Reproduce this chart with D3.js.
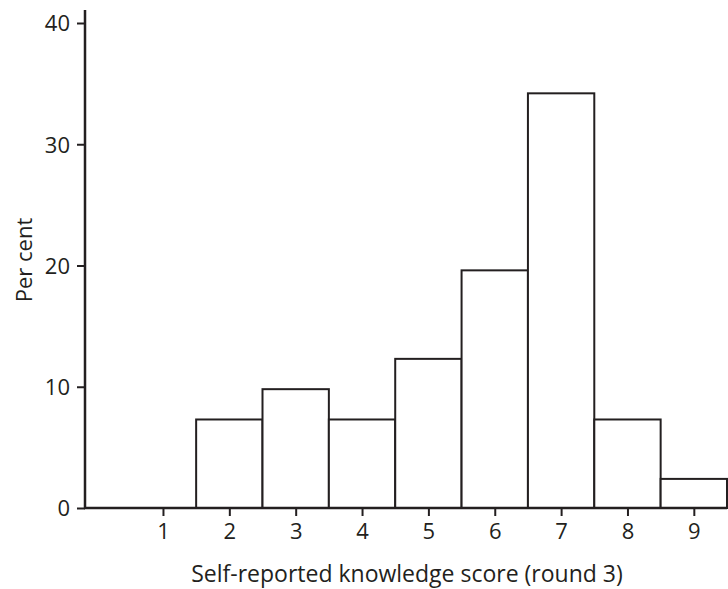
<!DOCTYPE html>
<html><head><meta charset="utf-8">
<script src="https://cdn.jsdelivr.net/npm/d3@7"></script>
<style>body{margin:0;background:#fff}svg{display:block}text{font-family:"Open Sans",sans-serif;fill:#231f20}</style>
</head><body>
<script>
const scores = [1,2,3,4,5,6,7,8,9];
const percents = [0,7.3,9.8,7.3,12.3,19.6,34.2,7.3,2.4];
const yTicks = [0,10,20,30,40];
const xLabel = "Self-reported knowledge score (round 3)";
const yLabel = "Per cent";

const W=728,H=589;
const svg=d3.select("body").append("svg").attr("width",W).attr("height",H);
const x=d3.scaleLinear().domain([-0.175,9.5]).range([85,727]);
const y=d3.scaleLinear().domain([0,40]).range([508,23]);
const col="#231f20";

svg.append("g").selectAll("rect").data(scores.map((s,i)=>({s,v:percents[i]})).filter(d=>d.v>0))
 .join("rect")
 .attr("x",d=>x(d.s-0.5)).attr("y",d=>y(d.v))
 .attr("width",d=>x(d.s+0.5)-x(d.s-0.5)).attr("height",d=>y(0)-y(d.v))
 .attr("fill","#fff").attr("stroke",col).attr("stroke-width",2);

const ya=svg.append("g").attr("transform","translate(85,0)")
 .call(d3.axisLeft(y).tickValues(yTicks).tickSize(8).tickPadding(7).tickSizeOuter(0));
ya.select(".domain").remove();
ya.append("line").attr("x1",0).attr("x2",0).attr("y1",10).attr("y2",509).attr("stroke",col).attr("stroke-width",2.5);

const xa=svg.append("g").attr("transform","translate(0,508)")
 .call(d3.axisBottom(x).tickValues(scores).tickSize(8).tickPadding(7).tickSizeOuter(0));
xa.select(".domain").remove();
xa.append("line").attr("x1",84).attr("x2",727).attr("y1",0).attr("y2",0).attr("stroke",col).attr("stroke-width",2.5);

svg.selectAll(".tick line").attr("stroke",col).attr("stroke-width",2);
svg.selectAll(".tick text").attr("font-size",22).style("font-family","'Open Sans',sans-serif").attr("fill",col);
ya.selectAll(".tick text").attr("dy","0.36em");

svg.append("text").attr("x",407).attr("y",582).attr("text-anchor","middle").attr("font-size",23).text(xLabel);
svg.append("text").attr("transform","translate(32,260) rotate(-90)").attr("text-anchor","middle").attr("font-size",22).text(yLabel);
</script>
</body></html>
